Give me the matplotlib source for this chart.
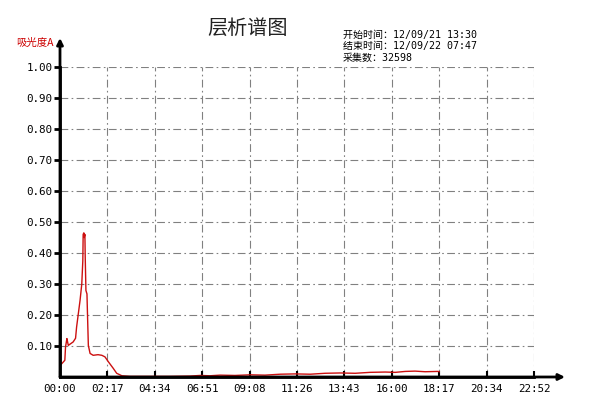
import numpy as np
import matplotlib.pyplot as plt

# chart data (time in minutes since start, absorbance)
t_min = [0, 1, 10, 14, 16, 20, 22, 24, 29, 38, 45, 48, 53, 58, 63, 66, 67, 69, 70, 72,
         73, 75, 78, 80, 82, 87, 96, 110, 121, 130, 140, 154, 164, 179, 203, 260, 318,
         376, 405, 434, 463, 506, 550, 593, 637, 680, 724, 767, 810, 854, 897, 941,
         970, 999, 1027, 1056, 1094, 1097]
absorb = [0.036, 0.038, 0.049, 0.054, 0.097, 0.124, 0.113, 0.102, 0.106, 0.113, 0.125,
          0.161, 0.204, 0.247, 0.300, 0.375, 0.460, 0.465, 0.450, 0.460, 0.385, 0.279,
          0.268, 0.183, 0.102, 0.076, 0.070, 0.072, 0.070, 0.065, 0.049, 0.028, 0.012,
          0.004, 0.002, 0.002, 0.002, 0.003, 0.005, 0.004, 0.006, 0.005, 0.007, 0.006,
          0.009, 0.010, 0.009, 0.012, 0.013, 0.012, 0.015, 0.016, 0.015, 0.018, 0.019,
          0.017, 0.018, 0.017]

y_ticks = [0.1, 0.2, 0.3, 0.4, 0.5, 0.6, 0.7, 0.8, 0.9, 1.0]
x_labels = ['00:00', '02:17', '04:34', '06:51', '09:08', '11:26', '13:43',
            '16:00', '18:17', '20:34', '22:52']
step = 1097 / 8.0   # 18:17 total run split in 8

title = '层析谱图'
ylabel = '吸光度A'
info = ['开始时间：12/09/21 13:30', '结束时间：12/09/22 07:47', '采集数：32598']

cjk = ['Noto Sans CJK SC', 'DejaVu Sans']
mono_cjk = ['DejaVu Sans Mono', 'Noto Sans CJK SC']
W, H = 600, 419

fig = plt.figure(figsize=(6, 4.19), dpi=100)
ax = fig.add_axes([60 / W, (H - 377) / H, (534 - 60) / W, (377 - 67) / H])

ax.plot(t_min, absorb, color='#cc1010', lw=1.0, zorder=3)

ax.set_xlim(0, 10 * step)
ax.set_ylim(0, 1.0)
ax.set_yticks(y_ticks)
ax.set_yticklabels(['%.2f' % v for v in y_ticks], family='DejaVu Sans Mono', fontsize=7.8)
ax.set_xticks([i * step for i in range(len(x_labels))])
ax.set_xticklabels(x_labels, family='DejaVu Sans Mono', fontsize=7.8)
ax.tick_params(axis='y', direction='out', length=4, width=2, pad=1.5)
ax.tick_params(axis='x', direction='in', length=4, width=1.5, pad=5)

ax.grid(True, color='#808080', lw=0.8, ls=(0, (7, 3, 1.5, 3)))
for s in ['top', 'right']:
    ax.spines[s].set_visible(False)
for s in ['left', 'bottom']:
    ax.spines[s].set_linewidth(2)
    ax.spines[s].set_zorder(4)

# axis arrows
ax.annotate('', xy=(60 / W, (H - 38) / H), xytext=(60 / W, (H - 377) / H),
            xycoords='figure fraction',
            arrowprops=dict(arrowstyle='-|>', color='black', lw=2, mutation_scale=9,
                            shrinkA=0, shrinkB=0))
ax.annotate('', xy=(565 / W, (H - 377) / H), xytext=(60 / W, (H - 377) / H),
            xycoords='figure fraction',
            arrowprops=dict(arrowstyle='-|>', color='black', lw=2, mutation_scale=9,
                            shrinkA=0, shrinkB=0))

fig.text(248 / W, 1 - 28 / H, title, family=cjk, fontsize=14.5, ha='center', va='center',
         color='#222222')
fig.text(16 / W, 1 - 43 / H, ylabel, family=cjk, fontsize=7.5, ha='left', va='center',
         color='#cc0000')
for i, line in enumerate(info):
    fig.text(343 / W, 1 - (35 + i * 11.5) / H, line, family=mono_cjk, fontsize=7.2,
             ha='left', va='center', color='black')

fig.savefig('out.png', dpi=100, facecolor='white')
